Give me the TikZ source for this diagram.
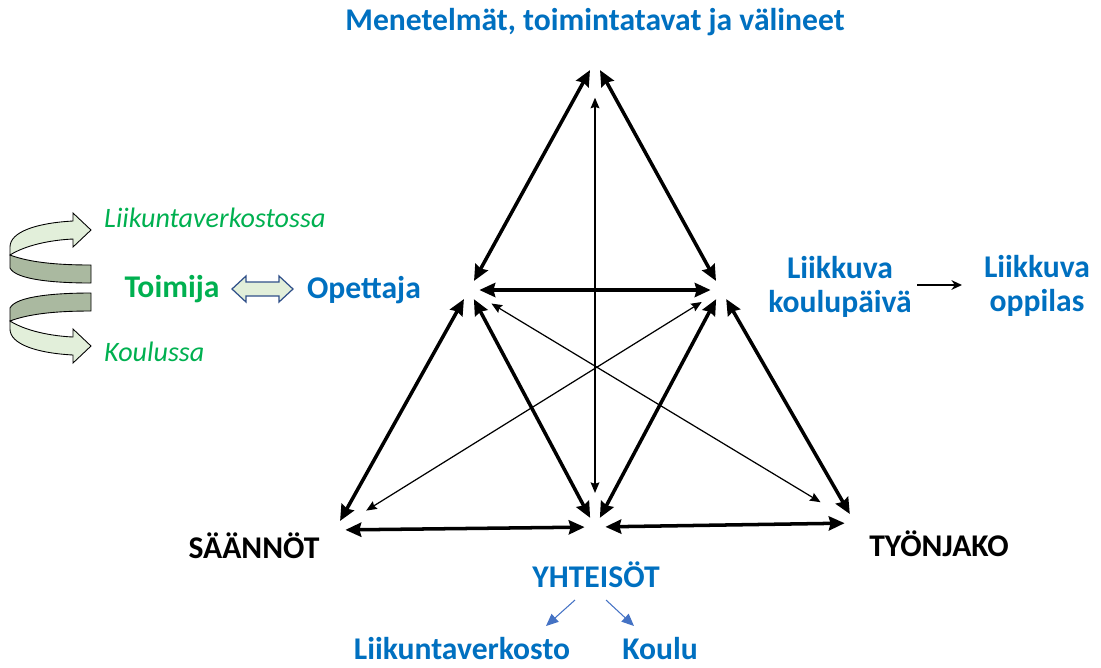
\documentclass[tikz,border=0pt]{standalone}
\usepackage{fontspec}
\setmainfont{Carlito}
\usepackage{xcolor}
\usetikzlibrary{arrows.meta}

\definecolor{mblue}{RGB}{0,112,192}
\definecolor{mgreen}{RGB}{0,176,80}
\definecolor{linkblue}{RGB}{68,114,196}
\definecolor{ribbonlight}{RGB}{226,239,218}
\definecolor{ribbondark}{RGB}{170,185,160}

\tikzset{
	vertex/.style={circle, inner sep=0pt, minimum size=11.4pt},
	thick arr/.style={{Stealth[length=9pt,width=8pt,inset=1pt]}-{Stealth[length=9pt,width=8pt,inset=1pt]}, line width=2pt},
	thin arr/.style={{Stealth[length=6pt,width=5pt,inset=0.8pt]}-{Stealth[length=6pt,width=5pt,inset=0.8pt]}, line width=0.7pt},
	big/.style={font=\bfseries\fontsize{18}{19.5}\selectfont, align=center},
	side/.style={font=\itshape\fontsize{16}{18}\selectfont, text=mgreen, anchor=west},
	curl/.pic={
		\filldraw[fill=ribbondark, draw=black, line width=0.5pt]
			(-81,25) .. controls (-60,33) and (-30,35) .. (0,35) -- (0,53)
			.. controls (-35,53) and (-75,50) .. (-81,38) -- cycle;
		\filldraw[fill=ribbonlight, draw=black, line width=0.5pt]
			(-18,-9) .. controls (-55,-7) and (-81,2) .. (-81,17) -- (-81,25)
			.. controls (-65,15) and (-40,10) .. (-18,9) -- (-18,17) -- (0,0)
			-- (-18,-17) -- cycle;
	}
}

\begin{document}
\begin{tikzpicture}[x=0.02cm, y=-0.02cm]
	\useasboundingbox (0,0) rectangle (1101,667);

	% corners of the triangle
	\node[vertex] (top) at (595,61) {};
	\node[vertex] (subj) at (469,290) {};
	\node[vertex] (obj) at (721,290) {};
	\node[vertex] (rules) at (335,530) {};
	\node[vertex] (comm) at (595,527) {};
	\node[vertex] (div) at (855,523) {};

	\node[big, text=mblue] (tools) at (595,22) {Menetelmät, toimintatavat ja välineet};
	\node[big, text=mblue] (teacher) at (364,290) {Opettaja};
	\node[big, text=mgreen] (actor) at (172,289) {Toimija};
	\node[big, text=mblue] (day) at (840,287) {Liikkuva\\koulupäivä};
	\node[big, text=mblue] (pupil) at (1037,286) {Liikkuva\\oppilas};
	\node[big] (rulestxt) at (254,546) {SÄÄNNÖT};
	\node[big] (divtxt) at (939,544) {TYÖNJAKO};
	\node[big, text=mblue] (commtxt) at (596,575) {YHTEISÖT};
	\node[big, text=mblue, inner sep=1pt] (network) at (462,649) {Liikuntaverkosto};
	\node[big, text=mblue, inner sep=1pt] (school) at (660,649) {Koulu};

	\node[side] (innet) at (98,218) {Liikuntaverkostossa};
	\node[side] (inschool) at (98,352) {Koulussa};

	% outer triangle
	\draw[thick arr] (top) -- (subj);
	\draw[thick arr] (top) -- (obj);
	\draw[thick arr] (subj) -- (obj);
	\draw[thick arr] (subj) -- (rules);
	\draw[thick arr] (subj) -- (comm);
	\draw[thick arr] (obj) -- (comm);
	\draw[thick arr] (obj) -- (div);
	\draw[thick arr] (rules) -- (comm);
	\draw[thick arr] (comm) -- (div);

	% inner links
	\draw[thin arr, shorten <=15pt, shorten >=13.5pt] (top) -- (comm);
	\draw[thin arr, shorten <=9pt, shorten >=17pt] (subj) -- (div);
	\draw[thin arr, shorten <=7pt, shorten >=15pt] (obj) -- (rules);

	% the rest
	\coordinate (dayend) at (917,285);
	\coordinate (pupilend) at (962,285);
	\draw[-{Stealth[length=6pt,width=5.5pt]}, line width=1.2pt] (dayend) -- (pupilend);

	\coordinate (commleft) at (575,600);
	\coordinate (commright) at (606,600);
	\coordinate (netend) at (546,626);
	\coordinate (schoolend) at (634,626);
	\draw[-{Triangle[length=7pt,width=6pt]}, linkblue, line width=0.6pt] (commleft) -- (netend);
	\draw[-{Triangle[length=7pt,width=6pt]}, linkblue, line width=0.6pt] (commright) -- (schoolend);

	\filldraw[draw=linkblue!70!black, fill=ribbonlight, line width=0.7pt]
		(232,289) -- (246,276) -- (246,282) -- (279,282) -- (279,276) -- (293,289)
		-- (279,302) -- (279,296) -- (246,296) -- (246,302) -- cycle;

	\pic at (91,230) {curl};
	\pic[yscale=-1] at (91,346) {curl};
\end{tikzpicture}
\end{document}
